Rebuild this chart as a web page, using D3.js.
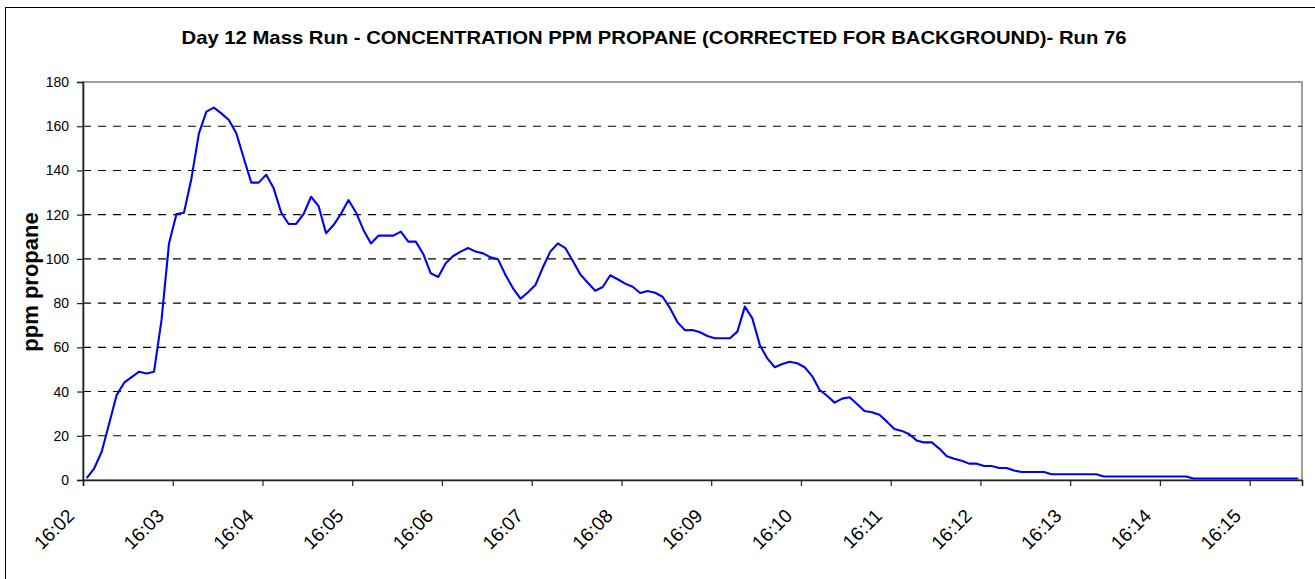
<!DOCTYPE html>
<html>
<head>
<meta charset="utf-8">
<script src="https://cdn.jsdelivr.net/npm/d3@7/dist/d3.min.js"></script>
<style>
  html, body { margin: 0; padding: 0; background: #fff; }
  svg { display: block; font-family: "Liberation Sans", Arial, sans-serif; }
</style>
</head>
<body>
<svg id="chart" width="1315" height="579"></svg>
<script>
// Propane concentration (ppm, background corrected), one sample every 5 s from 16:02
const ppm = [
  0.8, 5.3, 12.8, 25.6, 38.4, 44.0, 46.5, 49.0, 48.2, 49.0,
  72.4, 107.0, 120.3, 120.9, 136.4, 156.8, 166.6, 168.4, 165.8, 162.8,
  156.8, 145.5, 134.5, 134.5, 138.1, 131.9, 121.0, 115.8, 115.8, 120.3,
  128.1, 123.9, 111.6, 115.3, 120.4, 126.6, 121.0, 113.1, 107.0, 110.5,
  110.5, 110.5, 112.3, 107.8, 107.8, 102.2, 93.5, 91.8, 98.0, 101.3,
  103.3, 104.9, 103.3, 102.5, 100.7, 99.8, 92.7, 86.7, 82.0, 84.9,
  88.2, 96.2, 103.4, 107.0, 104.9, 99.0, 93.0, 89.2, 85.6, 87.3,
  92.6, 90.8, 88.8, 87.4, 84.6, 85.5, 84.7, 82.9, 77.7, 71.3,
  67.7, 67.8, 66.8, 65.1, 64.1, 64.1, 64.1, 67.1, 78.4, 73.1,
  61.1, 55.0, 51.0, 52.5, 53.5, 52.8, 51.0, 47.0, 40.7, 38.1,
  35.0, 36.8, 37.4, 34.4, 31.2, 30.6, 29.5, 26.4, 23.1, 22.2,
  20.7, 17.8, 17.0, 17.0, 14.2, 10.7, 9.6, 8.7, 7.4, 7.4,
  6.3, 6.3, 5.4, 5.4, 4.3, 3.6, 3.6, 3.6, 3.6, 2.6,
  2.6, 2.6, 2.6, 2.6, 2.6, 2.6, 1.6, 1.6, 1.6, 1.6,
  1.6, 1.6, 1.6, 1.6, 1.6, 1.6, 1.6, 1.6, 0.7, 0.7,
  0.7, 0.7, 0.7, 0.7, 0.7, 0.7, 0.7, 0.7, 0.7, 0.7,
  0.7, 0.7, 0.7
];

// Category axis labels, one per minute (every 12 samples)
const timeLabels = ["16:02", "16:03", "16:04", "16:05", "16:06", "16:07", "16:08",
                    "16:09", "16:10", "16:11", "16:12", "16:13", "16:14", "16:15"];
const samplesPerLabel = 12;

const yTicks = [0, 20, 40, 60, 80, 100, 120, 140, 160, 180];

const titleText = "Day 12 Mass Run - CONCENTRATION PPM PROPANE (CORRECTED FOR BACKGROUND)- Run 76";
const yTitle = "ppm propane";

const svg = d3.select("#chart");
const plot = { left: 83, right: 1302, top: 82, bottom: 480 };

// Outer chart frame
svg.append("rect")
  .attr("x", 5.5).attr("y", 7.5)
  .attr("width", 1330).attr("height", 600)
  .attr("fill", "#fff").attr("stroke", "#000").attr("stroke-width", 1);

// Category positions: sample i sits in the middle of its slot
const x = d3.scaleLinear()
  .domain([-0.5, ppm.length - 0.5])
  .range([plot.left, plot.right]);

const y = d3.scaleLinear()
  .domain([0, 180])
  .range([plot.bottom, plot.top]);

// Plot area border (top/right)
svg.append("rect")
  .attr("x", plot.left).attr("y", plot.top)
  .attr("width", plot.right - plot.left).attr("height", plot.bottom - plot.top)
  .attr("fill", "none").attr("stroke", "#808080").attr("stroke-width", 1.5);

// Dashed horizontal gridlines
svg.append("g")
  .selectAll("line")
  .data(yTicks.filter(v => v > 0 && v < 180))
  .join("line")
  .attr("x1", plot.left).attr("x2", plot.right)
  .attr("y1", d => y(d)).attr("y2", d => y(d))
  .attr("stroke", "#000").attr("stroke-width", 1.1)
  .attr("stroke-dasharray", "8,7");

// Data line
const line = d3.line()
  .x((d, i) => x(i))
  .y(d => y(d));

svg.append("path")
  .datum(ppm)
  .attr("d", line)
  .attr("fill", "none")
  .attr("stroke", "#0000ff")
  .attr("stroke-width", 2.1)
  .attr("stroke-linejoin", "round");

// Y axis
const yAxis = d3.axisLeft(y)
  .tickValues(yTicks)
  .tickSize(6)
  .tickPadding(8)
  .tickFormat(d3.format("d"));

const gy = svg.append("g")
  .attr("transform", `translate(${plot.left},0)`)
  .call(yAxis);
gy.select(".domain").attr("stroke", "#222").attr("stroke-width", 1.6);
gy.selectAll(".tick line").attr("stroke", "#222").attr("stroke-width", 1.2);
gy.selectAll(".tick text")
  .attr("font-size", 14)
  .attr("fill", "#000")
  .attr("font-family", "Liberation Sans, Arial, sans-serif");

// X axis: ticks on category boundaries every 12 samples
const tickIdx = timeLabels.map((_, k) => k * samplesPerLabel - 0.5);
const xAxis = d3.axisBottom(x)
  .tickValues(tickIdx)
  .tickSize(6)
  .tickFormat((d, k) => timeLabels[k]);

const gx = svg.append("g")
  .attr("transform", `translate(0,${plot.bottom})`)
  .call(xAxis);
gx.select(".domain").attr("stroke", "#222").attr("stroke-width", 1.6);
gx.selectAll(".tick line").attr("stroke", "#222").attr("stroke-width", 1.2);
gx.selectAll(".tick text")
  .attr("font-size", 19)
  .attr("fill", "#000")
  .attr("font-family", "Liberation Sans, Arial, sans-serif")
  .attr("text-anchor", "end")
  .attr("dy", null)
  .attr("y", null)
  .attr("transform", "translate(-8,37) rotate(-45)");

// Title
svg.append("text")
  .attr("x", 654).attr("y", 44)
  .attr("text-anchor", "middle")
  .attr("font-size", 19)
  .attr("font-weight", "bold")
  .attr("textLength", 945)
  .attr("lengthAdjust", "spacingAndGlyphs")
  .text(titleText);

// Y axis title
svg.append("text")
  .attr("transform", "translate(38,282) rotate(-90)")
  .attr("text-anchor", "middle")
  .attr("font-size", 22)
  .attr("font-weight", "bold")
  .text(yTitle);
</script>
</body>
</html>
